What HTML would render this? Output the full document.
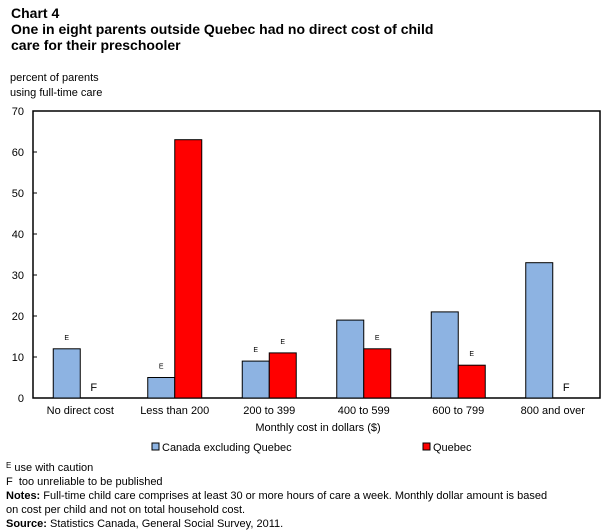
<!DOCTYPE html>
<html><head><meta charset="utf-8"><style>
body{margin:0;background:#fff;font-family:"Liberation Sans",Arial,sans-serif;}
#wrap{position:relative;width:611px;height:531px;overflow:hidden;}
.t{position:absolute;font-size:11px;color:#000;white-space:nowrap;}
.h{position:absolute;font-size:14px;font-weight:bold;left:11px;line-height:16px;}
</style></head><body><div id="wrap">
<div class="h" style="top:5px">Chart 4</div>
<div class="h" style="top:21px">One in eight parents outside Quebec had no direct cost of child<br>care for their preschooler</div>
<div class="t" style="left:10px;top:71px;line-height:15px">percent of parents<br>using full-time care</div>
<svg id="c" width="611" height="531" style="position:absolute;left:0;top:0"></svg>
<div class="t" style="left:6px;top:459px;line-height:14px"><span style="font-size:8px;vertical-align:3px">E</span> use with caution<br>F&nbsp; too unreliable to be published<br><b>Notes:</b> Full-time child care comprises at least 30 or more hours of care a week. Monthly dollar amount is based<br>on cost per child and not on total household cost.<br><b>Source:</b> Statistics Canada, General Social Survey, 2011.</div>
</div>
<script>
const categories=["No direct cost","Less than 200","200 to 399","400 to 599","600 to 799","800 and over"];
const canada=[12,5,9,19,21,33];
const quebec=[null,63,11,12,8,null];
const canadaFlags=["E","E","E","","",""];
const quebecFlags=["F","","E","E","E","F"];
const yTicks=[0,10,20,30,40,50,60,70];
const NS="http://www.w3.org/2000/svg";
const svg=document.getElementById('c');
const L=33,R=600,T=111,B=398,yMax=70;
const y=v=>B-(v/yMax)*(B-T);
const gw=(R-L)/categories.length;
const xc=i=>L+gw*(i+0.5);
const bw=27;
function mk(tag,a){const e=document.createElementNS(NS,tag);for(const k in a)e.setAttribute(k,a[k]);svg.appendChild(e);return e;}
let box=mk('rect',{x:L,y:T,width:R-L,height:B-T,fill:'none',stroke:'#000','stroke-width':1.5});


yTicks.forEach(v=>{
 let l=mk('line',{x1:L,x2:L+4,y1:y(v),y2:y(v),stroke:'#000'});
 
 
 let t=mk('text',{x:L-9,y:y(v)+4,'text-anchor':'end','font-size':11,'font-family':'Liberation Sans, sans-serif'});
 t.textContent=v;
 
 
});
function flag(f,x,v){
 if(!f)return;
 let t;
 if(f==="E"){t=mk('text',{x:x,y:y(v)-9,'text-anchor':'middle','font-size':7,'font-family':'Liberation Sans, sans-serif'});}
 else{t=mk('text',{x:x,y:B-7,'text-anchor':'middle','font-size':11,'font-family':'Liberation Sans, sans-serif'});}
 t.textContent=f;
 
 
}
categories.forEach((c,i)=>{
 const cx=xc(i);
 if(canada[i]!=null){
  let r=mk('rect',{x:cx-bw,y:y(canada[i]),width:bw,height:B-y(canada[i]),fill:'#8db3e2',stroke:'#000','stroke-width':1});
  
  
 }
 flag(canadaFlags[i],cx-bw/2,canada[i]||0);
 if(quebec[i]!=null){
  let r=mk('rect',{x:cx,y:y(quebec[i]),width:bw,height:B-y(quebec[i]),fill:'#ff0000',stroke:'#000','stroke-width':1});
  
  
 }
 flag(quebecFlags[i],cx+bw/2,quebec[i]||0);
 let t=mk('text',{x:cx,y:414,'text-anchor':'middle','font-size':11,'font-family':'Liberation Sans, sans-serif'});
 t.textContent=c;
 
 
});
let xt=mk('text',{x:318,y:431,'text-anchor':'middle','font-size':11,'font-family':'Liberation Sans, sans-serif'});
xt.textContent='Monthly cost in dollars ($)';


[["Canada excluding Quebec","#8db3e2",152],["Quebec","#ff0000",423]].forEach(([n,c,x])=>{
 let s=mk('rect',{x:x,y:443,width:7,height:7,fill:c,stroke:'#000','stroke-width':1});
 
 
 let t=mk('text',{x:x+10,y:451,'font-size':11,'font-family':'Liberation Sans, sans-serif'});
 t.textContent=n;
 
 
});
</script></body></html>
